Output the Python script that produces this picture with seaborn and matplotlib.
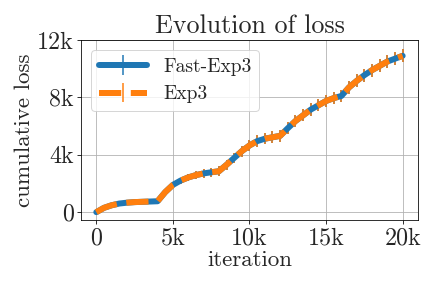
import matplotlib
matplotlib.use("Agg")
import matplotlib.pyplot as plt
import seaborn as sns
import numpy as np
from matplotlib.ticker import FuncFormatter

iterations = [0, 500, 1000, 1500, 2000, 2500, 3000, 3500, 4000,
              4500, 5000, 5500, 6000, 6500, 7000, 7500, 8000,
              8500, 9000, 9500, 10000, 10500, 11000, 11500, 12000,
              12500, 13000, 13500, 14000, 14500, 15000, 15500, 16000,
              16500, 17000, 17500, 18000, 18500, 19000, 19500, 20000]
fast_exp3 = [0, 300, 480, 600, 660, 700, 720, 740, 760,
             1400, 1900, 2200, 2420, 2580, 2700, 2780, 2850,
             3300, 3780, 4250, 4650, 4950, 5120, 5220, 5320,
             5850, 6350, 6750, 7150, 7450, 7750, 7950, 8100,
             8700, 9150, 9550, 9900, 10200, 10500, 10700, 10900]
exp3 = [0, 300, 480, 600, 660, 700, 720, 740, 760,
        1400, 1900, 2200, 2420, 2580, 2700, 2780, 2850,
        3300, 3780, 4250, 4650, 4950, 5120, 5220, 5320,
        5850, 6350, 6750, 7150, 7450, 7750, 7950, 8100,
        8700, 9150, 9550, 9900, 10200, 10500, 10700, 10900]
fast_err = [0, 20, 40, 60, 80, 100, 120, 140, 150,
            170, 190, 210, 230, 260, 290, 320, 350,
            360, 370, 380, 390, 400, 400, 410, 410,
            420, 420, 430, 430, 430, 440, 440, 440,
            440, 450, 450, 450, 450, 450, 450, 450]
exp3_err = [0, 20, 40, 60, 80, 100, 120, 140, 150,
            170, 190, 210, 230, 260, 290, 320, 350,
            360, 370, 380, 390, 400, 400, 410, 410,
            420, 420, 430, 430, 430, 440, 440, 440,
            440, 450, 450, 450, 450, 450, 450, 450]

sns.set_theme(style="ticks")
plt.rcParams.update({
    "font.family": "serif",
    "font.serif": ["cmr10"],
    "mathtext.fontset": "cm",
    "axes.formatter.use_mathtext": True,
    "axes.unicode_minus": False,
})
pal = sns.color_palette("tab10")

fig = plt.figure(figsize=(6, 4), dpi=72)
ax = fig.add_axes([0.1875, 0.236, 0.78, 0.625])

ax.errorbar(iterations, fast_exp3, yerr=fast_err, color=pal[0], lw=6,
            elinewidth=1.5, label="Fast-Exp3")
ax.errorbar(iterations, exp3, yerr=exp3_err, color=pal[1], lw=6, ls="--",
            elinewidth=1.5, label="Exp3")

ax.set_xlim(-1000, 21000)
ax.set_ylim(-550, 12000)
ax.set_xticks([0, 5000, 10000, 15000, 20000])
ax.set_yticks([0, 4000, 8000, 12000])
fmt = FuncFormatter(lambda v, p: "0" if v == 0 else f"{int(v/1000)}k")
ax.xaxis.set_major_formatter(fmt)
ax.yaxis.set_major_formatter(fmt)
ax.tick_params(labelsize=24, length=4, width=0.8, color="black", pad=3)
ax.grid(True, color="#b0b0b0", lw=0.8)
for s in ax.spines.values():
    s.set_color("black")
    s.set_linewidth(0.8)
ax.set_title("Evolution of loss", fontsize=26, pad=7)
ax.set_xlabel("iteration", fontsize=23, labelpad=1)
ax.set_ylabel("cumulative loss", fontsize=23, labelpad=3)
ax.legend(loc="upper left", fontsize=19.5, framealpha=0.8, handlelength=2.5,
          borderaxespad=0.5)

fig.savefig("out.png", dpi=72)
